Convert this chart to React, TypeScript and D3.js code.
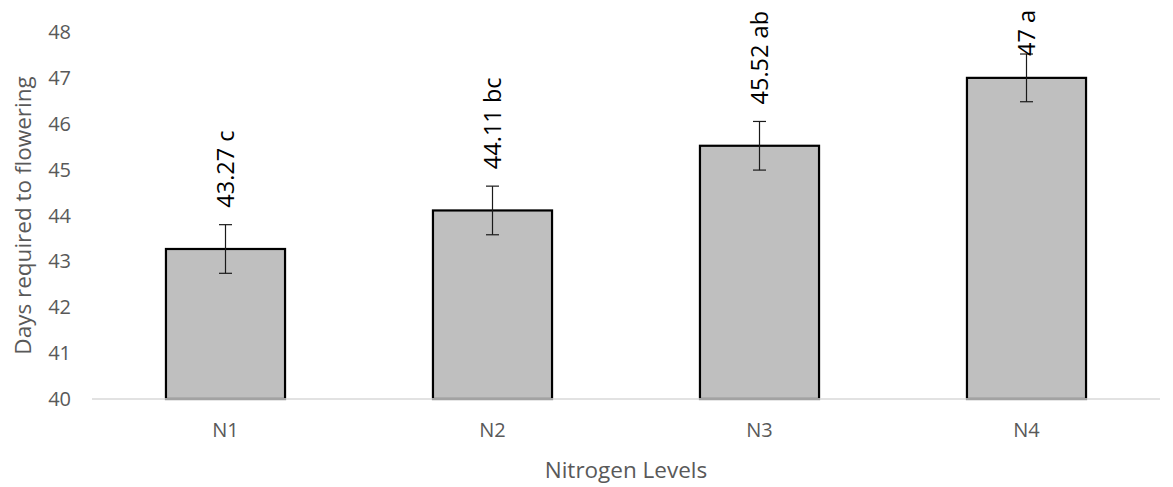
import React, { useEffect, useRef } from "react";
import * as d3 from "d3";

const categories = ["N1", "N2", "N3", "N4"];
const values = [43.27, 44.11, 45.52, 47];
const errors = [0.53, 0.53, 0.53, 0.52];
const letters = ["c", "bc", "ab", "a"];
const yTicks = [40, 41, 42, 43, 44, 45, 46, 47, 48];
const xTitle = "Nitrogen Levels";
const yTitle = "Days required to flowering";

const W = 1173;
const H = 487;
const FONT = "'Open Sans', 'Noto Sans', sans-serif";

export default function App() {
  const ref = useRef<SVGSVGElement | null>(null);

  useEffect(() => {
    document.body.style.margin = "0";
    const svg = d3.select(ref.current);
    svg.selectAll("*").remove();

    const x = d3.scaleBand<string>().domain(categories).range([92, 1160]).paddingInner(0.554).paddingOuter(0.277);
    const y = d3.scaleLinear().domain([40, 48]).range([399, 32]);

    // y tick labels
    svg.append("g").selectAll("text").data(yTicks).join("text")
      .attr("x", 71).attr("y", (d) => y(d)).attr("dy", "0.35em")
      .attr("text-anchor", "end").attr("font-family", FONT).attr("font-size", 20)
      .attr("fill", "#595959").text((d) => String(d));

    // bars
    svg.append("g").selectAll("rect").data(categories).join("rect")
      .attr("x", (d) => x(d)!).attr("y", (_, i) => y(values[i]))
      .attr("width", x.bandwidth()).attr("height", (_, i) => y(40) - y(values[i]))
      .attr("fill", "#bfbfbf").attr("stroke", "#000").attr("stroke-width", 2.2);

    // axis line
    svg.append("line").attr("x1", 92).attr("x2", 1160).attr("y1", y(40)).attr("y2", y(40))
      .attr("stroke", "#d9d9d9").attr("stroke-width", 1.5);

    // error bars
    const eg = svg.append("g").attr("stroke", "#1a1a1a").attr("stroke-width", 1.2);
    categories.forEach((c, i) => {
      const cx = x(c)! + x.bandwidth() / 2;
      const t = y(values[i] + errors[i]);
      const b = y(values[i] - errors[i]);
      eg.append("line").attr("x1", cx).attr("x2", cx).attr("y1", t).attr("y2", b);
      eg.append("line").attr("x1", cx - 6.5).attr("x2", cx + 6.5).attr("y1", t).attr("y2", t);
      eg.append("line").attr("x1", cx - 6.5).attr("x2", cx + 6.5).attr("y1", b).attr("y2", b);
    });

    // data labels
    const lg = svg.append("g");
    categories.forEach((c, i) => {
      const cx = x(c)! + x.bandwidth() / 2;
      const t = y(values[i] + errors[i]);
      const label = `${values[i]} ${letters[i]}`;
      const txt = lg.append("text")
        .attr("font-family", FONT).attr("font-size", 23.5).attr("fill", "#000")
        .attr("dy", "0.35em").text(label);
      const len = (txt.node() as SVGTextElement).getComputedTextLength();
      let bottom = t - 17;
      if (bottom - len < 10) bottom = 10 + len;
      txt.attr("transform", `translate(${cx},${bottom}) rotate(-90)`).attr("x", 0).attr("y", 0);
    });

    // x tick labels
    svg.append("g").selectAll("text").data(categories).join("text")
      .attr("x", (d) => x(d)! + x.bandwidth() / 2).attr("y", 430).attr("dy", "0.35em")
      .attr("text-anchor", "middle").attr("font-family", FONT).attr("font-size", 20)
      .attr("fill", "#595959").text((d) => d);

    // axis titles
    svg.append("text").attr("x", (92 + 1160) / 2).attr("y", 470).attr("dy", "0.35em")
      .attr("text-anchor", "middle").attr("font-family", FONT).attr("font-size", 22.5)
      .attr("fill", "#595959").text(xTitle);

    svg.append("text").attr("transform", `translate(23,${(y(40) + y(48)) / 2}) rotate(-90)`)
      .attr("dy", "0.35em").attr("text-anchor", "middle").attr("font-family", FONT).attr("font-size", 22.5)
      .attr("fill", "#595959").text(yTitle);
  }, []);

  return (
    <svg ref={ref} width={W} height={H} style={{ display: "block", position: "absolute", left: 0, top: 0, background: "#fff" }} />
  );
}
